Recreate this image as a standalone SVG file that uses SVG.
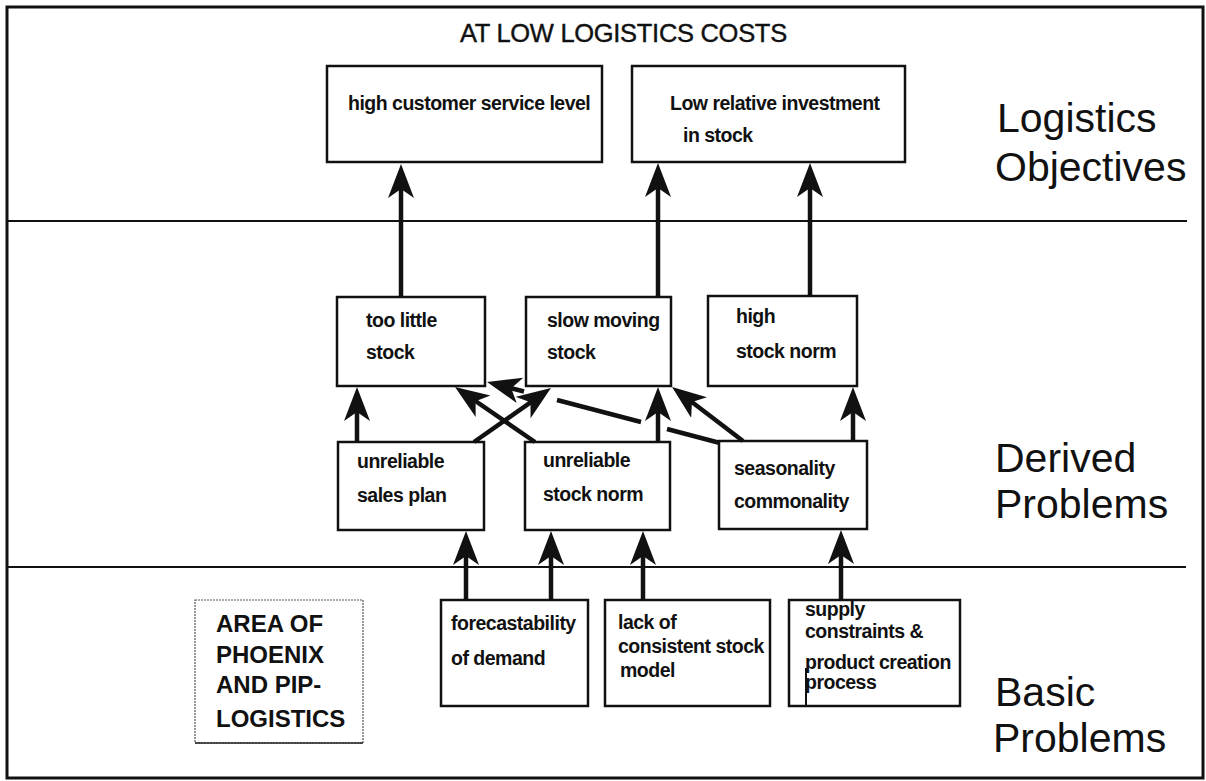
<svg xmlns="http://www.w3.org/2000/svg" width="1206" height="781" viewBox="0 0 1206 781">
<style>
.box{fill:#fff;stroke:#111;stroke-width:2.5}
.bt{font-family:"Liberation Sans",Arial,sans-serif;font-weight:bold;font-size:19.5px;letter-spacing:-0.5px;fill:#111}
.lbl{font-family:"Liberation Sans",Arial,sans-serif;font-size:41px;fill:#111}
.conn{stroke:#111;stroke-width:4.5;fill:none}
.rule{stroke:#111;stroke-width:2}
</style>
<defs>
<marker id="ah" markerUnits="userSpaceOnUse" markerWidth="36" markerHeight="28" refX="26" refY="13" orient="auto">
<path d="M34,13 L0,0 L9,13 L0,26 Z" fill="#111"/>
</marker>
</defs>
<rect width="1206" height="781" fill="#fff"/>
<rect x="7" y="7" width="1196" height="771" fill="none" stroke="#111" stroke-width="3"/>
<line class="rule" x1="7" y1="221" x2="1187" y2="221"/>
<line class="rule" x1="7" y1="567" x2="1186" y2="567"/>
<text x="460" y="42" font-family="Liberation Sans, Arial, sans-serif" font-size="25.5" letter-spacing="-0.3" fill="#111" stroke="#111" stroke-width="0.4">AT LOW LOGISTICS COSTS</text>
<text class="lbl" x="997" y="132">Logistics</text>
<text class="lbl" x="995" y="181">Objectives</text>
<text class="lbl" x="995" y="472">Derived</text>
<text class="lbl" x="995" y="518">Problems</text>
<text class="lbl" x="995" y="706">Basic</text>
<text class="lbl" x="993" y="752">Problems</text>
<g id="n-service"><rect class="box" x="327" y="66" width="275" height="96"/><text class="bt" x="348" y="110">high customer service level</text></g>
<g id="n-investment"><rect class="box" x="632" y="66" width="273" height="96"/><text class="bt" x="670" y="110">Low relative investment</text><text class="bt" x="683" y="142">in stock</text></g>
<g id="n-toolittle"><rect class="box" x="337" y="297" width="148" height="89"/><text class="bt" x="366" y="327">too little</text><text class="bt" x="366" y="359">stock</text></g>
<g id="n-slowmoving"><rect class="box" x="526" y="297" width="145" height="89"/><text class="bt" x="547" y="327">slow moving</text><text class="bt" x="547" y="359">stock</text></g>
<g id="n-highnorm"><rect class="box" x="708" y="296" width="149" height="90"/><text class="bt" x="736" y="323">high</text><text class="bt" x="736" y="358">stock norm</text></g>
<g id="n-salesplan"><rect class="box" x="338" y="442" width="146" height="88"/><text class="bt" x="357" y="468">unreliable</text><text class="bt" x="357" y="502">sales plan</text></g>
<g id="n-stocknorm"><rect class="box" x="525" y="442" width="145" height="88"/><text class="bt" x="543" y="467">unreliable</text><text class="bt" x="543" y="501">stock norm</text></g>
<g id="n-seasonality"><rect class="box" x="719" y="441" width="148" height="88"/><text class="bt" x="734" y="475">seasonality</text><text class="bt" x="734" y="508">commonality</text></g>
<g id="n-forecast"><rect class="box" x="441" y="600" width="147" height="106"/><text class="bt" x="451" y="630">forecastability</text><text class="bt" x="451" y="665">of demand</text></g>
<g id="n-lackmodel"><rect class="box" x="605" y="600" width="165" height="106"/><text class="bt" x="618" y="629">lack of</text><text class="bt" x="618" y="653">consistent stock</text><text class="bt" x="620" y="677">model</text></g>
<g id="n-supply"><rect class="box" x="789" y="600" width="171" height="106"/><line x1="806" y1="668" x2="806" y2="706" stroke="#111" stroke-width="2"/><text class="bt" x="805" y="616">supply</text><text class="bt" x="805" y="638">constraints &amp;</text><text class="bt" x="805" y="669">product creation</text><text class="bt" x="805" y="689">process</text></g>
<g id="n-area"><rect x="195" y="600" width="168" height="143" fill="#fff" stroke="#555" stroke-width="1.2" stroke-dasharray="2,1"/><line x1="195" y1="743" x2="363" y2="743" stroke="#222" stroke-width="1.6"/>
<g font-family="Liberation Sans, Arial, sans-serif" font-weight="bold" font-size="24" fill="#111"><text x="216" y="632">AREA OF</text><text x="216" y="663">PHOENIX</text><text x="216" y="693">AND PIP-</text><text x="216" y="727">LOGISTICS</text></g></g>
<g id="connectors">
<line class="conn" x1="401" y1="297" x2="401" y2="172" marker-end="url(#ah)"/>
<line class="conn" x1="658" y1="297" x2="658" y2="171" marker-end="url(#ah)"/>
<line class="conn" x1="810" y1="296" x2="810" y2="171" marker-end="url(#ah)"/>
<line class="conn" x1="357" y1="442" x2="357" y2="395" marker-end="url(#ah)"/>
<line class="conn" x1="658" y1="442" x2="658" y2="395" marker-end="url(#ah)"/>
<line class="conn" x1="853" y1="441" x2="853" y2="395" marker-end="url(#ah)"/>
<line class="conn" x1="474" y1="442" x2="544.4" y2="392.6" marker-end="url(#ah)"/>
<line class="conn" x1="535" y1="442" x2="461.6" y2="391.5" marker-end="url(#ah)"/>
<line class="conn" x1="743" y1="441" x2="678.4" y2="391.8" marker-end="url(#ah)"/>
<line class="conn" x1="720" y1="443" x2="667" y2="429"/>
<line class="conn" x1="641" y1="422" x2="557" y2="400"/>
<line class="conn" x1="524" y1="391.5" x2="494.8" y2="383.9" marker-end="url(#ah)"/>
<line class="conn" x1="466" y1="600" x2="466" y2="539" marker-end="url(#ah)"/>
<line class="conn" x1="551" y1="600" x2="551" y2="539" marker-end="url(#ah)"/>
<line class="conn" x1="643" y1="600" x2="643" y2="539" marker-end="url(#ah)"/>
<line class="conn" x1="841" y1="600" x2="841" y2="538" marker-end="url(#ah)"/>
</g>
</svg>
